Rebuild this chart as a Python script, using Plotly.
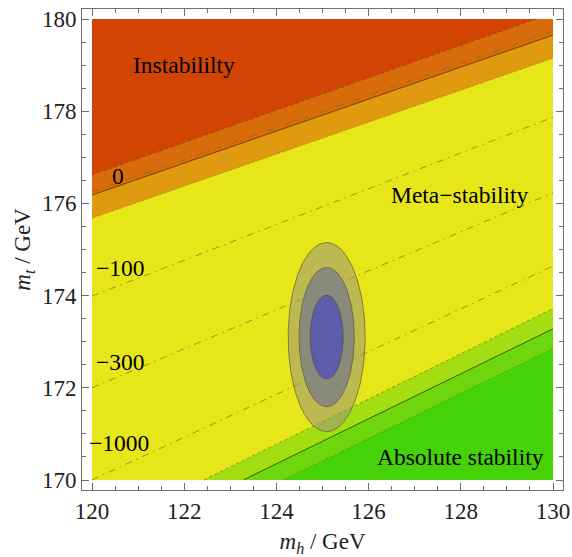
import numpy as np
import plotly.graph_objects as go

# ---------------- data ----------------
MH_ENDS = [120.0, 130.0]          # mh at which each boundary value is given
# upper (instability) band boundaries: mt at mh=120 and mh=130
instab_edge = [176.62, 180.13]    # instability / dark-orange edge
instab_mid = [176.18, 179.65]     # central (solid) line
instab_low = [175.68, 179.15]     # orange / yellow edge
# lower (absolute stability) band boundaries
stab_high = [168.81, 173.72]      # yellow / light-green edge
stab_mid = [168.40, 173.28]       # central (solid) line
stab_low = [167.97, 172.85]       # green edge

# dash-dot contours
contour_labels = ["0", "\u2212100", "\u2212300", "\u22121000"]
contour_at_120 = [176.25, 173.99, 172.00, 170.00]
contour_at_130 = [179.74, 177.87, 176.23, 174.64]
contour_label_mh = [120.56, 120.61, 120.61, 120.58]
contour_label_mt = [176.59, 174.60, 172.56, 170.80]

# measurement ellipses (1, 2, 3 sigma)
ell_center = [125.09, 173.10]
ell_semi_mh = [0.835, 0.60, 0.36]
ell_semi_mt = [2.05, 1.51, 0.91]
ell_fill = ["rgba(155,148,125,0.55)", "rgba(138,138,122,1)", "rgba(92,92,170,1)"]

region_labels = ["Instabililty", "Meta\u2212stability", "Absolute stability"]
region_label_mh = [122.0, 127.98, 127.99]
region_label_mt = [179.0, 176.18, 170.50]

x_ticks = [120, 122, 124, 126, 128, 130]
y_ticks = [170, 172, 174, 176, 178, 180]

X0, X1, Y0, Y1 = 120.0, 130.0, 170.0, 180.0
FONT = "Liberation Serif, Times New Roman, serif"

grid = np.linspace(X0, X1, 801)


def line_vals(ends):
    return ends[0] + (ends[1] - ends[0]) * (grid - MH_ENDS[0]) / (MH_ENDS[1] - MH_ENDS[0])


def region(ends, above, color):
    y = np.clip(line_vals(ends), Y0, Y1)
    xs = list(grid) + [X1, X0]
    ys = list(y) + ([Y1, Y1] if above else [Y0, Y0])
    return go.Scatter(x=xs, y=ys, fill="toself", fillcolor=color, mode="none",
                      hoverinfo="skip", showlegend=False)


def boundary(ends, dash, width=0.6, color="rgba(90,60,0,0.8)"):
    y = line_vals(ends)
    y = np.where((y >= Y0) & (y <= Y1), y, np.nan)
    return go.Scatter(x=grid, y=y, mode="lines", line=dict(color=color, width=width, dash=dash),
                      hoverinfo="skip", showlegend=False, connectgaps=False)


fig = go.Figure()
fig.add_trace(go.Scatter(x=[X0, X1, X1, X0], y=[Y0, Y0, Y1, Y1], fill="toself",
                         fillcolor="#E6E619", mode="none", hoverinfo="skip", showlegend=False))
fig.add_trace(region(instab_low, True, "#E09A10"))
fig.add_trace(region(instab_mid, True, "#D86C0A"))
fig.add_trace(region(instab_edge, True, "#D24404"))
fig.add_trace(region(stab_high, False, "#A2DE12"))
fig.add_trace(region(stab_mid, False, "#6ED60C"))
fig.add_trace(region(stab_low, False, "#46D208"))

fig.add_trace(boundary(instab_edge, "3px,3px", 0.6))
fig.add_trace(boundary(instab_mid, "solid", 0.9, "rgba(100,50,0,0.9)"))
fig.add_trace(boundary(instab_low, "1px,2px", 0.7))
fig.add_trace(boundary(stab_high, "3px,3px", 0.6, "rgba(60,80,0,0.8)"))
fig.add_trace(boundary(stab_mid, "solid", 0.9, "rgba(40,70,0,0.9)"))
fig.add_trace(boundary(stab_low, "1px,2px", 0.7, "rgba(40,70,0,0.8)"))

for a, b in zip(contour_at_120, contour_at_130):
    fig.add_trace(boundary([a, b], "7px,5px,1.5px,5px", 0.8, "rgba(120,110,30,0.85)"))

t = np.linspace(0, 2 * np.pi, 200)
for sx, sy, fc in zip(ell_semi_mh, ell_semi_mt, ell_fill):
    fig.add_trace(go.Scatter(x=ell_center[0] + sx * np.cos(t), y=ell_center[1] + sy * np.sin(t),
                             fill="toself", fillcolor=fc, mode="lines",
                             line=dict(color="rgba(80,80,50,0.8)", width=0.8),
                             hoverinfo="skip", showlegend=False))

for txt, x, y in zip(contour_labels, contour_label_mh, contour_label_mt):
    fig.add_annotation(x=x, y=y, text=txt, showarrow=False,
                       font=dict(family=FONT, size=23.5, color="black"))
for txt, x, y in zip(region_labels, region_label_mh, region_label_mt):
    fig.add_annotation(x=x, y=y, text=txt, showarrow=False,
                       font=dict(family=FONT, size=23.5, color="black"))

pad = 10 / 46.1
axis_common = dict(showgrid=False, zeroline=False, showline=True, linecolor="#707070",
                   linewidth=1, mirror="allticks", ticks="inside", ticklen=7, tickwidth=1,
                   tickcolor="#707070", tickfont=dict(family=FONT, size=23, color="#222"),
                   automargin=False,
                   minor=dict(dtick=0.5, ticks="inside", ticklen=4, tickcolor="#707070"))
fig.update_xaxes(range=[X0 - pad, X1 + pad], tickvals=x_ticks, ticktext=[str(v) for v in x_ticks],
                 title=dict(text="<i>m</i><sub><i>h</i></sub> / GeV",
                            font=dict(family=FONT, size=23, color="#222"), standoff=14),
                 **axis_common)
fig.update_yaxes(range=[Y0 - pad, Y1 + pad], tickvals=y_ticks, ticktext=[str(v) for v in y_ticks],
                 title=dict(text="<i>m</i><sub><i>t</i></sub> / GeV",
                            font=dict(family=FONT, size=23, color="#222"), standoff=4),
                 **axis_common)
fig.update_layout(width=572, height=557, margin=dict(l=82, r=9, t=9, b=67),
                  font=dict(family=FONT),
                  plot_bgcolor="white", paper_bgcolor="white")
fig.write_html("out.html", config={"displayModeBar": False},
               post_script="document.body.style.margin='0';document.body.style.overflow='hidden';")
